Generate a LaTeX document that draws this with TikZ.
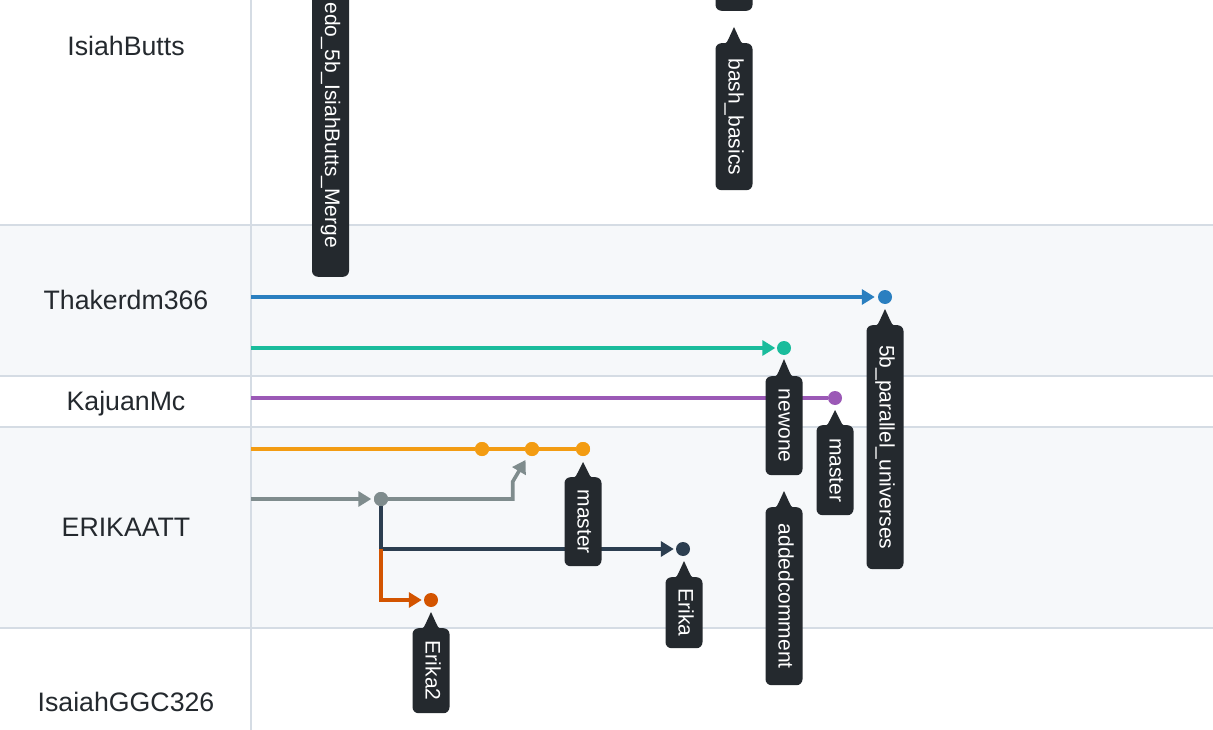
\documentclass[tikz,border=0pt]{standalone}
\usepackage{fontspec}
\setmainfont{Liberation Sans}
\usetikzlibrary{arrows.meta}
\definecolor{txt}{HTML}{24292E}
\definecolor{tipc}{HTML}{24292E}
\definecolor{bgg}{HTML}{F6F8FA}
\definecolor{gridc}{HTML}{D5DCE4}
\definecolor{cblue}{HTML}{2A7FC0}
\definecolor{cteal}{HTML}{1ABC9C}
\definecolor{cpurple}{HTML}{9B59B6}
\definecolor{corange}{HTML}{F39C12}
\definecolor{cgray}{HTML}{7F8C8D}
\definecolor{cnavy}{HTML}{2C3E50}
\definecolor{cred}{HTML}{D35400}
\newcommand\ghptr[3]{\fill[tipc] (#1-11,#3+0.5) .. controls (#1-7,#3+0.5) and (#1-6.5,#3-2) .. (#1-5.5,#3-4) -- (#1,#2) -- (#1+5.5,#3-4) .. controls (#1+6.5,#3-2) and (#1+7,#3+0.5) .. (#1+11,#3+0.5) -- cycle;}
\tikzset{
  rowlabel/.style={font=\fontsize{26.7}{30}\selectfont, text=txt, anchor=base, inner sep=0pt},
  tipbox/.style={fill=tipc, text=white, rounded corners=6pt, rotate=-90, minimum height=37pt,
    inner sep=0pt, text height=15pt, text depth=4pt, font=\fontsize{21}{24}\selectfont, anchor=west},
  cdot/.style={circle, fill=#1, minimum size=14pt, inner sep=0pt},
  conn/.style={draw=#1, line width=3.6pt},
  tip/.style={-{Triangle[length=13pt,width=15pt]}},
  gridline/.style={draw=gridc, line width=2pt}
}
\begin{document}
\begin{tikzpicture}[x=1pt,y=-1pt]
\useasboundingbox (0,0) rectangle (1213,730);
% backgrounds
\fill[white] (0,0) rectangle (1213,730);
\fill[bgg] (0,225) rectangle (1213,376);
\fill[bgg] (0,427) rectangle (1213,628);
\draw[gridline] (0,225) -- (1213,225);
\draw[gridline] (0,376) -- (1213,376);
\draw[gridline] (0,427) -- (1213,427);
\draw[gridline] (0,628) -- (1213,628);
\draw[gridline] (251,0) -- (251,730);

% row labels
\node[rowlabel] (r1) at (126,56) {IsiahButts};
\node[rowlabel] (r2) at (126,309) {Thakerdm366};
\node[rowlabel] (r3) at (126,410) {KajuanMc};
\node[rowlabel] (r4) at (126,536) {ERIKAATT};
\node[rowlabel] (r5) at (126,711) {IsaiahGGC326};

% start coordinates
\coordinate (sblue) at (251,297);
\coordinate (steal) at (251,348);
\coordinate (spurple) at (251,398);
\coordinate (sorange) at (251,449);
\coordinate (sgray) at (251,499);
\coordinate (kgray) at (512.7,499);
\coordinate (kgray2) at (512.7,481.7);
\coordinate (knavy) at (381,549);
\coordinate (kred) at (381,600);

% dots
\node[cdot=cblue] (dblue) at (885,297) {};
\node[cdot=cteal] (dteal) at (784,348) {};
\node[cdot=cpurple] (dpurple) at (835,398) {};
\node[cdot=corange] (do1) at (482,449) {};
\node[cdot=corange] (do2) at (532,449) {};
\node[cdot=corange] (do3) at (583,449) {};
\node[cdot=cgray] (dgray) at (381,499) {};
\node[cdot=cnavy] (dnavy) at (683,549) {};
\node[cdot=cred] (dred) at (431,600) {};

% connectors
\draw[conn=cblue, tip, shorten >=3pt] (sblue) -- (dblue);
\draw[conn=cteal, tip, shorten >=1.5pt] (steal) -- (dteal);
\draw[conn=cpurple] (spurple) -- (dpurple);
\draw[conn=corange] (sorange) -- (do1) -- (do2) -- (do3);
\draw[conn=cgray, tip, shorten >=2.5pt] (sgray) -- (dgray);
\draw[conn=cgray, tip, shorten >=5.5pt] (dgray) -- (kgray) -- (kgray2) -- (do2);
\draw[conn=cnavy, tip, shorten >=2pt] (dgray) -- (knavy) -- (dnavy);
\draw[conn=cred, tip, shorten >=2pt] (knavy) -- (kred) -- (dred);
% redraw dots on top
\fill[cgray] (dgray) circle (7);
\fill[corange] (do1) circle (7);
\fill[corange] (do2) circle (7);
\fill[corange] (do3) circle (7);

% tooltips
\node[tipbox, anchor=east, inner xsep=29pt] (tedo) at (330.5,277) {edo\_5b\_IsiahButts\_Merge};
\node[tipbox, anchor=east, minimum width=60pt] (ttop) at (734,11) {};
\ghptr{734}{27}{43}
\node[tipbox, minimum width=147pt] (tbash) at (734,43) {bash\_basics};
\ghptr{885}{309}{325}
\node[tipbox, minimum width=244pt] (tpar) at (885,325) {5b\_parallel\_universes};
\ghptr{784}{359}{376}
\node[tipbox, minimum width=99pt] (tnew) at (784,376) {newone};
\ghptr{784}{491}{507}
\node[tipbox, minimum width=178pt] (tadd) at (784,507) {addedcomment};
\ghptr{835}{410}{425}
\node[tipbox, minimum width=90pt] (tmp) at (835,425) {master};
\ghptr{583}{462}{477}
\node[tipbox, minimum width=89pt] (tmo) at (583,477) {master};
\ghptr{684}{561}{577}
\node[tipbox, minimum width=71pt] (terika) at (684,577) {Erika};
\ghptr{431}{612}{628}
\node[tipbox, minimum width=85pt] (terika2) at (431,628) {Erika2};
\end{tikzpicture}
\end{document}
